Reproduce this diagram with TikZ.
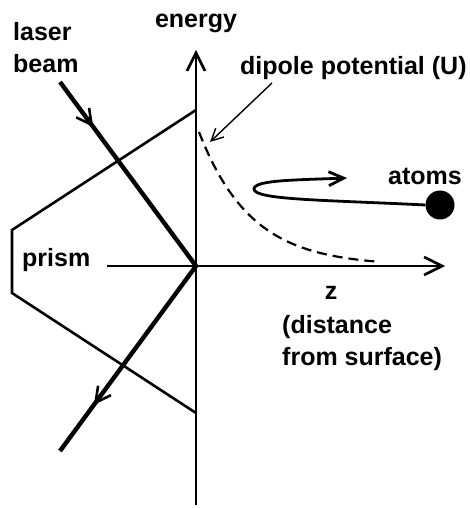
\documentclass[tikz,border=0pt]{standalone}
\usepackage{fontspec}
\setmainfont{Liberation Sans}
\usetikzlibrary{arrows.meta,decorations.markings}

\begin{document}
\begin{tikzpicture}[x=1pt,y=1pt,
every node/.style={inner sep=0pt,font=\fontsize{25}{32}\selectfont\bfseries},
axis/.style={line width=2.6pt,-{Straight Barb[length=18pt,width=18pt]}},
beam/.style={line width=4.4pt,postaction={decorate},
  decoration={markings,mark=at position #1 with {\arrow{Straight Barb[length=15pt,width=16pt,line width=2.6pt]}}}}]
\useasboundingbox (-196,-242) rectangle (273,266);
\coordinate (O) at (0,0);
\coordinate (Etop) at (0,216);
\coordinate (Ebot) at (0,-239);
\coordinate (Zstart) at (-89,0);
\coordinate (Zend) at (249,0);
\coordinate (P1) at (0,156);
\coordinate (P2) at (-184,36);
\coordinate (P3) at (-184,-27);
\coordinate (P4) at (0,-147);
\coordinate (Lin) at (-136,184);
\coordinate (Lout) at (-136,-185);
\coordinate (Ustart) at (76,183);
\coordinate (Utip) at (14,124);
\node[anchor=base] (energy) at (0,238) {energy};
\node[anchor=north west,align=left] (laser) at (-183,244) {laser\\beam};
\node[anchor=base west] (dip) at (44,191) {dipole potential (U)};
\node[anchor=base west] (prism) at (-174,-1) {prism};
\node[anchor=base] (z) at (135,-34) {z};
\node[anchor=north west,align=left] (dist) at (86,-49) {(distance\\from surface)};
\node[anchor=base west] (atoms) at (192,81) {atoms};
\node[circle,fill,minimum size=29pt] (atom) at (244,61) {};
\draw[axis] (Ebot)--(Etop);
\draw[axis] (Zstart)--(Zend);
\draw[line width=2.6pt] (P1)--(P2)--(P3)--(P4);
\draw[beam=0.244] (Lin)--(O);
\draw[beam=0.75] (O)--(Lout);
\draw[line width=2.2pt,dash pattern=on 10pt off 6pt] plot[domain=3:184,samples=60] (\x,{134*exp(-(\x-3)/52)});
\draw[line width=1.4pt,-{Straight Barb[length=12pt,width=12pt]}] (Ustart)--(Utip);
\draw[line width=2.8pt,-{Straight Barb[length=15pt,width=14pt]}] (atom.west) .. controls (130,66) and (58,66) .. (58,77) .. controls (58,86) and (100,86) .. (151,88);
\end{tikzpicture}
\end{document}
